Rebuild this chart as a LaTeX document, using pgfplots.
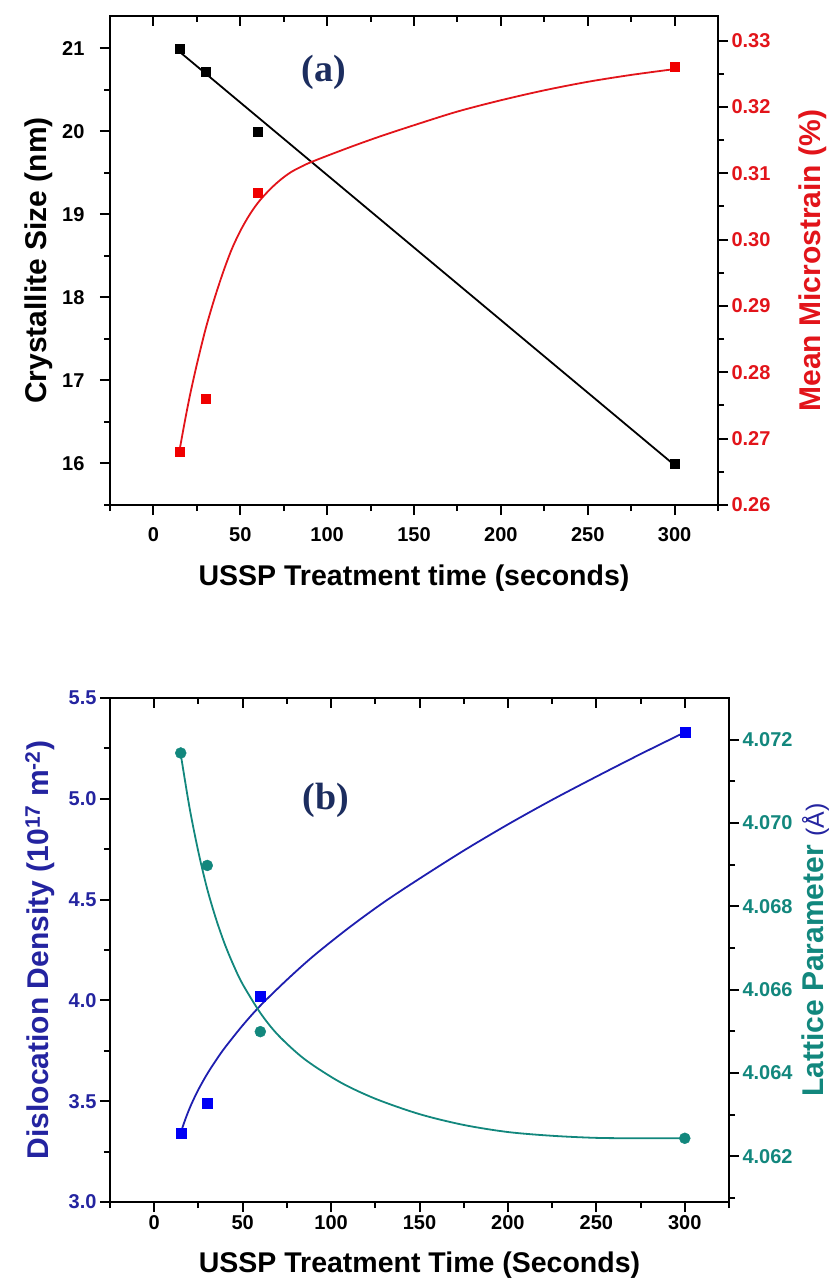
\documentclass[border=0pt]{standalone}
\usepackage{pgfplots}
\pgfplotsset{compat=1.18}
\usepackage{fontspec}
\setmainfont{Liberation Sans}
\newfontfamily\tagfont{Liberation Serif}

\definecolor{cRed}{RGB}{226,20,26}
\definecolor{cMark}{RGB}{240,0,0}
\definecolor{cBlue}{RGB}{0,0,245}
\definecolor{cBlueLine}{RGB}{30,30,175}
\definecolor{cNavy}{RGB}{36,36,160}
\definecolor{cTeal}{RGB}{18,135,125}
\definecolor{cTag}{RGB}{28,45,95}

\pgfplotsset{
  base/.style={scale only axis, xmin=-25, xmax=325,
    /pgf/number format/assume math mode=true,
    tick label style={font=\fontsize{20}{24}\selectfont\bfseries},
    xlabel style={font=\fontsize{28.5}{32}\selectfont\bfseries},
    ylabel style={font=\fontsize{30}{34}\selectfont\bfseries},
    axis line style={line width=2.2pt},
    major tick length=10pt, minor tick length=6pt,
    every tick/.style={line width=2pt, black},
    tick align=outside},
  xt/.style={xtick={0,50,100,150,200,250,300},
    minor xtick={-25,25,75,125,175,225,275,325}},
  topticks/.style={base, xt, axis y line=none, axis x line*=top,
    tick align=inside, xticklabels={}, ymin=0, ymax=1},
}

\begin{document}
\begin{tikzpicture}
% ---------- panel (a) ----------
\begin{axis}[base, xt, at={(110pt,-505pt)}, anchor=south west,
  width=608pt, height=489pt,
  ymin=15.5, ymax=21.39, ytick={16,17,18,19,20,21},
  minor ytick={15.5,16.5,17.5,18.5,19.5,20.5},
  xtick pos=bottom, ytick pos=left,
  xticklabel shift=9pt, yticklabel shift=12pt,
  xlabel={USSP Treatment time (seconds)}, ylabel={Crystallite Size (nm)},
  xlabel style={at={(axis description cs:0.5,-0.149)}, anchor=center},
  ylabel style={at={(axis description cs:-0.118,0.5)}, anchor=center}]
\addplot[black, line width=1.8pt] coordinates {(15,20.96)(300,15.98)};
\addplot[only marks, mark=square*, mark size=4.5pt, black]
  coordinates {(15,21.0)(30,20.72)(60,20.0)(300,16.0)};
\node[font=\tagfont\bfseries\fontsize{38}{40}\selectfont, text=cTag]
  at (axis cs:98,20.71) {(a)};
\end{axis}
\begin{axis}[base, at={(110pt,-505pt)}, anchor=south west,
  width=608pt, height=489pt,
  ymin=0.26, ymax=0.3337, axis x line=none, axis y line*=right,
  ytick={0.26,0.27,0.28,0.29,0.30,0.31,0.32,0.33},
  minor ytick={0.265,0.275,0.285,0.295,0.305,0.315,0.325},
  yticklabel style={text=cRed, /pgf/number format/.cd, fixed, fixed zerofill, precision=2},
  ylabel={Mean Microstrain (\%)},
  ylabel style={text=cRed, at={(axis description cs:1.155,0.5)}, anchor=center}]
\addplot[cRed, line width=1.8pt, smooth, tension=0.5] coordinates {
(15,0.2682)(18,0.2725)(21,0.2765)(25,0.2812)(30,0.2865)(35,0.2910)(40,0.2950)
(45,0.2985)(50,0.3013)(55,0.3036)(60,0.3055)(65,0.3070)(70,0.3083)(75,0.3094)
(80,0.3103)(86,0.3111)(90,0.3116)(100,0.31263)(115,0.31411)(130,0.31551)
(150,0.31724)(175,0.3193)(200,0.3210)(225,0.32250)(250,0.32378)(275,0.32482)(300,0.3257)};
\addplot[only marks, mark=square*, mark size=4.5pt, cMark]
  coordinates {(15,0.268)(30,0.276)(60,0.307)(300,0.326)};
\end{axis}
\begin{axis}[topticks, at={(110pt,-505pt)}, anchor=south west,
  width=608pt, height=489pt]
\end{axis}

% ---------- panel (b) ----------
\begin{axis}[base, xt, at={(110pt,-1202pt)}, anchor=south west,
  width=619pt, height=504pt,
  ymin=3, ymax=5.5, ytick={3,3.5,4,4.5,5,5.5},
  minor ytick={3.25,3.75,4.25,4.75,5.25},
  xtick pos=bottom, ytick pos=left,
  yticklabel style={text=cNavy, /pgf/number format/.cd, fixed, fixed zerofill, precision=1},
  xlabel={USSP Treatment Time (Seconds)},
  ylabel={Dislocation Density (10\textsuperscript{17} m\textsuperscript{-2})},
  xlabel style={at={(axis description cs:0.5,-0.125)}, anchor=center},
  ylabel style={text=cNavy, at={(axis description cs:-0.113,0.5)}, anchor=center}]
\addplot[cBlueLine, line width=1.8pt, smooth, tension=0.5] coordinates {
(15,3.345)(18,3.420)(21,3.485)(25,3.558)(30,3.636)(35,3.704)(40,3.766)
(50,3.876)(60,3.974)(75,4.102)(90,4.220)(110,4.360)(130,4.488)(150,4.604)
(175,4.743)(200,4.873)(225,4.995)(250,5.110)(275,5.222)(300,5.330)};
\addplot[only marks, mark=square*, mark size=5pt, cBlue]
  coordinates {(15,3.341)(30,3.490)(60,4.022)(300,5.330)};
\node[font=\tagfont\bfseries\fontsize{38}{40}\selectfont, text=cTag]
  at (axis cs:97,4.994) {(b)};
\end{axis}
\begin{axis}[base, at={(110pt,-1202pt)}, anchor=south west,
  width=619pt, height=504pt,
  ymin=4.0609, ymax=4.0730, axis x line=none, axis y line*=right,
  ytick={4.062,4.064,4.066,4.068,4.070,4.072},
  minor ytick={4.061,4.063,4.065,4.067,4.069,4.071},
  yticklabel style={text=cTeal, /pgf/number format/.cd, fixed, fixed zerofill, precision=3},
  ylabel={Lattice Parameter {\mdseries\fontsize{25}{28}\selectfont\color{cNavy}(Å)}},
  ylabel style={text=cTeal, at={(axis description cs:1.14,0.5)}, anchor=center}]
\addplot[cTeal, line width=1.8pt, smooth, tension=0.5] coordinates {
(15,4.07165)(20,4.07036)(25,4.06930)(30,4.06841)(35,4.06769)(40,4.06708)
(45,4.06657)(50,4.06613)(60,4.06544)(70,4.06491)(85,4.06433)(105,4.06378)
(125,4.06338)(150,4.06301)(175,4.06275)(200,4.06258)(225,4.06249)(250,4.06244)
(275,4.06243)(300,4.06243)};
\addplot[only marks, mark=*, mark size=5.5pt, cTeal]
  coordinates {(15,4.07168)(30,4.06898)(60,4.06499)(300,4.06243)};
\end{axis}
\begin{axis}[topticks, at={(110pt,-1202pt)}, anchor=south west,
  width=619pt, height=504pt]
\end{axis}

\pgfresetboundingbox
\path[use as bounding box] (0,0) rectangle (831pt,-1285pt);
\end{tikzpicture}
\end{document}
